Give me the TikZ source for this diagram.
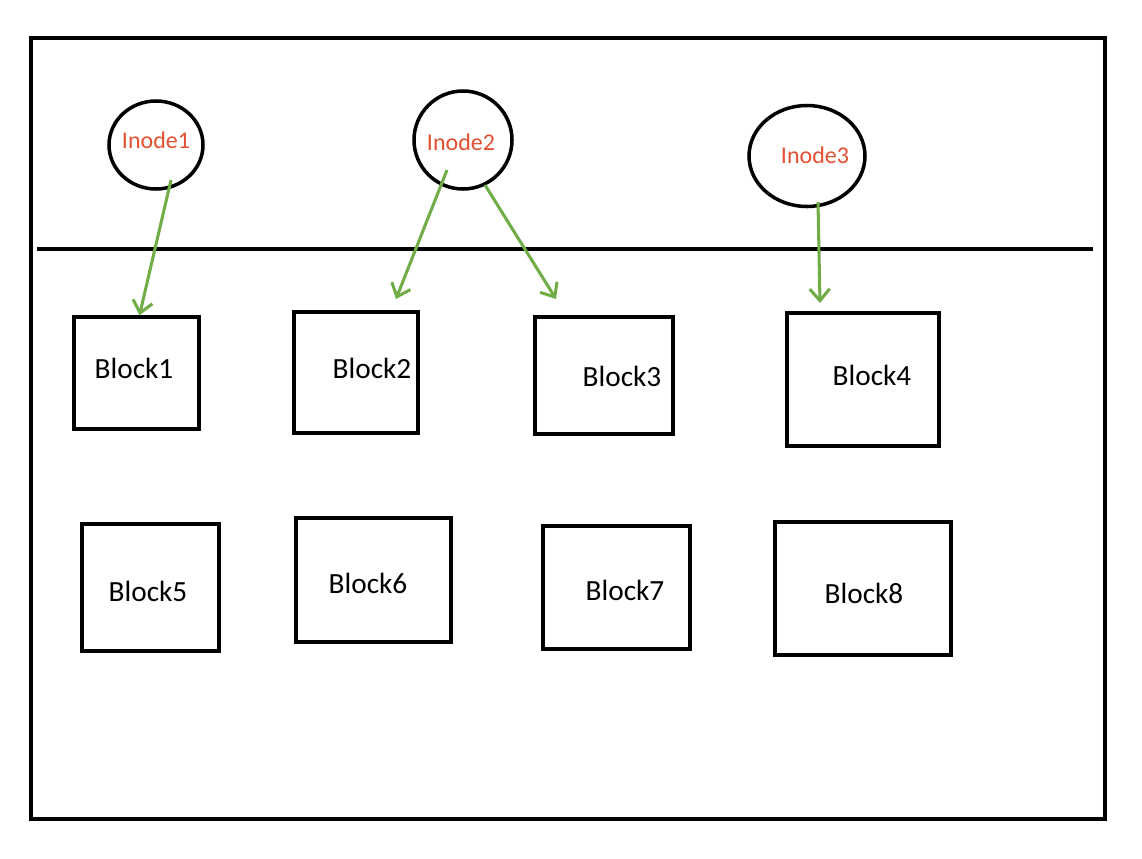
\documentclass[tikz,border=0pt]{standalone}
\usepackage{fontspec}
\setmainfont{Carlito}
\usetikzlibrary{arrows.meta, calc, positioning, shapes.geometric}

\definecolor{inodered}{RGB}{226,80,50}
\definecolor{arrowgreen}{RGB}{112,173,71}

\tikzset{
    inode/.style={draw, ellipse, line width=3pt, inner sep=0pt},
    inodelabel/.style={inner sep=0pt, text=inodered, font=\fontsize{20.5}{24}\selectfont},
    blockbox/.style={draw, rectangle, line width=3pt, inner sep=0pt},
    blocklabel/.style={inner sep=0pt, font=\fontsize{25}{30}\selectfont},
    ptr/.style={draw=arrowgreen, line width=2.6pt, -{Straight Barb[length=10pt, width=17pt, line width=2.6pt]}}
}

\begin{document}
\begin{tikzpicture}[x=0.03cm, y=-0.03cm]

        \useasboundingbox (0,0) rectangle (1142,858);

        % frame and divider
        \draw[line width=3pt] (31,38) rectangle (1105,819);
        \draw[line width=3pt] (37,249) -- (1093,249);

        % inodes
        \node[inode, minimum width={94*0.03cm}, minimum height={88*0.03cm}] (inode1) at (156,145) {};
        \node[inodelabel] (inode1text) at (156,140) {Inode1};
        \node[inode, minimum width={98*0.03cm}, minimum height={98*0.03cm}] (inode2) at (463,140) {};
        \node[inodelabel] (inode2text) at (461,142) {Inode2};
        \node[inode, minimum width={116*0.03cm}, minimum height={101*0.03cm}] (inode3) at (807,156) {};
        \node[inodelabel] (inode3text) at (815,155) {Inode3};

        % blocks: corner/corner/label position
        \foreach \name/\xa/\ya/\xb/\yb/\lx/\ly/\txt in {
            block1/74/317/199/429/134/368/Block1,
            block2/294/312/418/433/372/368/Block2,
            block3/535/317/673/434/622/376/Block3,
            block4/787/313/939/446/872/375/Block4,
            block5/82/524/219/651/148/591/Block5,
            block6/296/518/451/642/368/583/Block6,
            block7/543/526/690/649/625/590/Block7,
            block8/775/522/951/655/864/593/Block8} {
            \node[blockbox, minimum width={(\xb-\xa)*0.03cm}, minimum height={(\yb-\ya)*0.03cm}] (\name) at ({(\xa+\xb)/2},{(\ya+\yb)/2}) {};
            \node[blocklabel] (\name text) at (\lx,\ly) {\txt};
        }

        % arrow ends
        \coordinate (src1) at (171,180);
        \coordinate (src2a) at (447,170);
        \coordinate (src2b) at (485,185);
        \coordinate (src3) at (818,202);
        \coordinate (dst2) at (396,299);
        \coordinate (dst3) at (556,299);
        \coordinate (dst4) at (820,303);

        \draw[ptr] (src1) -- ($(block1.north)+(3,0)$);
        \draw[ptr] (src2a) -- (dst2);
        \draw[ptr] (src2b) -- (dst3);
        \draw[ptr] (src3) -- (dst4);

\end{tikzpicture}
\end{document}
